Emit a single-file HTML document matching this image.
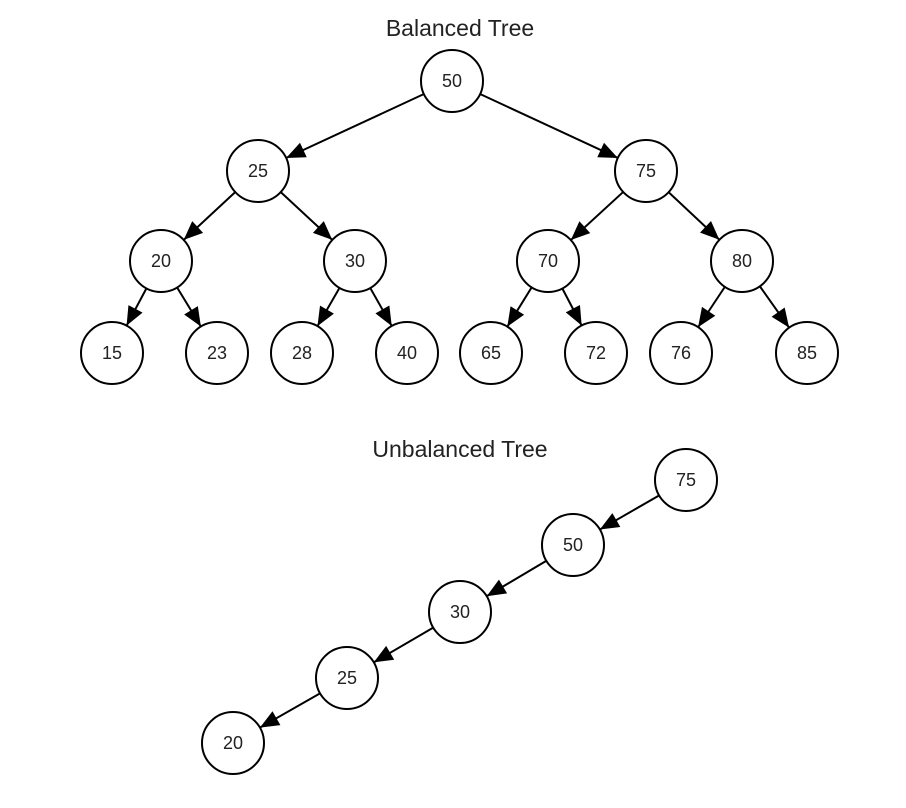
<!DOCTYPE html>
<html><head><meta charset="utf-8"><style>html,body{margin:0;padding:0;background:#fff}svg{display:block}</style></head>
<body>
<svg width="906" height="808" viewBox="0 0 906 808" xmlns="http://www.w3.org/2000/svg" font-family="Liberation Sans, sans-serif">
<defs>
<marker id="a" markerUnits="userSpaceOnUse" viewBox="0 0 60 16" markerWidth="60" markerHeight="16" refX="50" refY="8" orient="auto" overflow="visible">
<path d="M0,0 L19,8 L0,16 z" fill="#000"/>
</marker>
</defs>
<g stroke="#000" stroke-width="2" marker-end="url(#a)">
<line x1="452" y1="81" x2="258" y2="171"/>
<line x1="452" y1="81" x2="646" y2="171"/>
<line x1="258" y1="171" x2="161" y2="261"/>
<line x1="258" y1="171" x2="355" y2="261"/>
<line x1="646" y1="171" x2="548" y2="261"/>
<line x1="646" y1="171" x2="742" y2="261"/>
<line x1="161" y1="261" x2="112" y2="353"/>
<line x1="161" y1="261" x2="217" y2="353"/>
<line x1="355" y1="261" x2="302" y2="353"/>
<line x1="355" y1="261" x2="407" y2="353"/>
<line x1="548" y1="261" x2="491" y2="353"/>
<line x1="548" y1="261" x2="596" y2="353"/>
<line x1="742" y1="261" x2="681" y2="353"/>
<line x1="742" y1="261" x2="807" y2="353"/>
<line x1="686" y1="480" x2="573" y2="545"/>
<line x1="573" y1="545" x2="460" y2="612"/>
<line x1="460" y1="612" x2="347" y2="678"/>
<line x1="347" y1="678" x2="233" y2="743"/>
</g>
<g fill="#fff" stroke="#000" stroke-width="2">
<circle cx="452" cy="81" r="31"/>
<circle cx="258" cy="171" r="31"/>
<circle cx="646" cy="171" r="31"/>
<circle cx="161" cy="261" r="31"/>
<circle cx="355" cy="261" r="31"/>
<circle cx="548" cy="261" r="31"/>
<circle cx="742" cy="261" r="31"/>
<circle cx="112" cy="353" r="31"/>
<circle cx="217" cy="353" r="31"/>
<circle cx="302" cy="353" r="31"/>
<circle cx="407" cy="353" r="31"/>
<circle cx="491" cy="353" r="31"/>
<circle cx="596" cy="353" r="31"/>
<circle cx="681" cy="353" r="31"/>
<circle cx="807" cy="353" r="31"/>
<circle cx="686" cy="480" r="31"/>
<circle cx="573" cy="545" r="31"/>
<circle cx="460" cy="612" r="31"/>
<circle cx="347" cy="678" r="31"/>
<circle cx="233" cy="743" r="31"/>
</g>
<g font-size="18" fill="#222" text-anchor="middle">
<text x="452" y="87">50</text>
<text x="258" y="177">25</text>
<text x="646" y="177">75</text>
<text x="161" y="267">20</text>
<text x="355" y="267">30</text>
<text x="548" y="267">70</text>
<text x="742" y="267">80</text>
<text x="112" y="359">15</text>
<text x="217" y="359">23</text>
<text x="302" y="359">28</text>
<text x="407" y="359">40</text>
<text x="491" y="359">65</text>
<text x="596" y="359">72</text>
<text x="681" y="359">76</text>
<text x="807" y="359">85</text>
<text x="686" y="486">75</text>
<text x="573" y="551">50</text>
<text x="460" y="618">30</text>
<text x="347" y="684">25</text>
<text x="233" y="749">20</text>
</g>
<g font-size="23" fill="#222" text-anchor="middle">
<text x="460" y="36">Balanced Tree</text>
<text x="460" y="457">Unbalanced Tree</text>
</g>
</svg>
</body></html>
